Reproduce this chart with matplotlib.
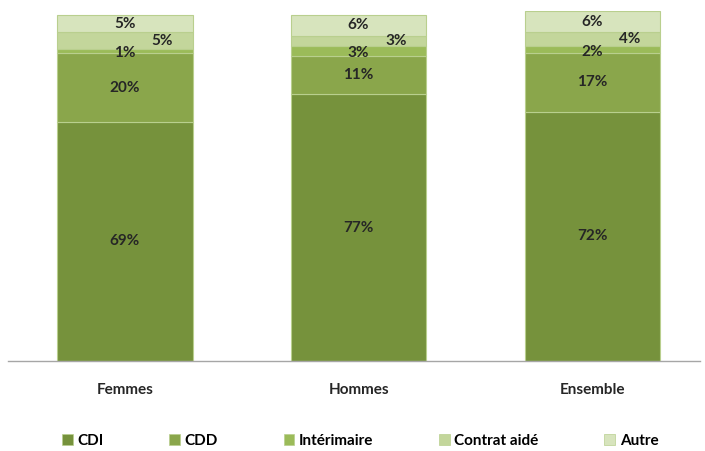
import matplotlib.pyplot as plt
import numpy as np
from matplotlib.patches import Patch

plt.rcParams['font.family'] = ['Lato', 'DejaVu Sans']

groupes = ['Femmes', 'Hommes', 'Ensemble']
contrats = ['CDI', 'CDD', 'Intérimaire', 'Contrat aidé', 'Autre']
cdi = [69, 77, 72]
cdd = [20, 11, 17]
interim = [1, 3, 2]
aide = [5, 3, 4]
autre = [5, 6, 6]
couleurs = ['#76923C', '#8AA64B', '#9BBB59', '#C3D69B', '#D7E4BD']

series = [cdi, cdd, interim, aide, autre]
x = np.arange(len(groupes))
largeur = 0.58

fig = plt.figure(figsize=(7.05, 4.51), dpi=100)
ax = fig.add_axes([0.011, 0.2, 0.982, 0.767 * 1.01])

bas = np.zeros(len(groupes))
for i, (vals, c) in enumerate(zip(series, couleurs)):
    vals = np.array(vals, dtype=float)
    ax.bar(x, vals, largeur, bottom=bas, color=c, edgecolor='#B9CF8E', linewidth=0.8)
    for j, v in enumerate(vals):
        cx = x[j] + (0.16 if contrats[i] == 'Contrat aidé' else 0)
        cy = bas[j] + v / 2
        if contrats[i] == 'Intérimaire':
            cy -= 0.6
        ax.text(cx, cy, f'{int(v)}%', ha='center', va='center',
                fontsize=11, fontweight='bold', color='#262626')
    bas += vals

ax.set_xlim(-0.5, 2.46)
ax.set_ylim(0, 101)
ax.set_xticks(x)
ax.set_xticklabels(groupes, fontsize=11, fontweight='bold', color='#262626')
ax.tick_params(axis='x', length=0, pad=16)
ax.set_yticks([])
for s in ['top', 'right', 'left']:
    ax.spines[s].set_visible(False)
ax.spines['bottom'].set_color('#A6A6A6')
ax.spines['bottom'].set_linewidth(1)

handles = [Patch(facecolor=c, edgecolor='#B9CF8E', linewidth=0.5) for c in couleurs]
fig.legend(handles, contrats, loc='center', bbox_to_anchor=(0.511, 0.022),
           ncol=5, frameon=False, handlelength=0.7, handleheight=0.7,
           handletextpad=0.3, columnspacing=4.3,
           prop={'weight': 'bold', 'size': 11})

fig.savefig('out.png', dpi=100)
